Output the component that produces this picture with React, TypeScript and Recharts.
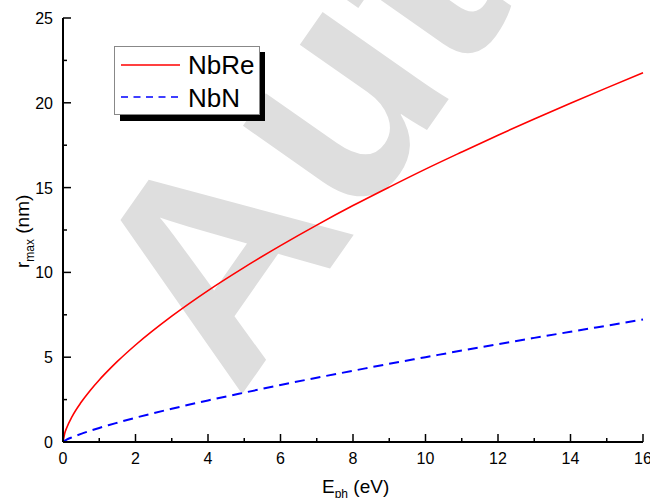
import { Legend, Line, LineChart, XAxis, YAxis } from "recharts";

const energy = [0, 0.05, 0.1, 0.25, 0.5, 0.75, 1, 1.25, 1.5, 2, 3, 4, 5, 6, 7, 8, 9, 10, 11, 12, 13, 14, 15, 16];
const nbre = [0, 0.53, 0.83, 1.5, 2.34, 3.04, 3.66, 4.22, 4.75, 5.72, 7.42, 8.93, 10.3, 11.58, 12.79, 13.94, 15.03, 16.09, 17.1, 18.09, 19.04, 19.97, 20.88, 21.77];
const nbn = [0, 0.08, 0.14, 0.28, 0.48, 0.66, 0.83, 0.99, 1.14, 1.43, 1.96, 2.45, 2.91, 3.36, 3.79, 4.2, 4.61, 5.0, 5.39, 5.77, 6.14, 6.5, 6.86, 7.22];

const xTicks = [0, 1, 2, 3, 4, 5, 6, 7, 8, 9, 10, 11, 12, 13, 14, 15, 16];
const yTicks = [0, 2.5, 5, 7.5, 10, 12.5, 15, 17.5, 20, 22.5, 25];

const seriesNames = ["NbRe", "NbN"];

const data = energy.map((e, i) => ({ e, nbre: nbre[i], nbn: nbn[i] }));

const FONT = "'Liberation Sans', Arial, sans-serif";

function BottomTick({ x, y, payload }: any) {
  const major = payload.value % 2 === 0;
  return (
    <g>
      <line x1={x} x2={x} y1={y} y2={y - (major ? 8 : 4)} stroke="#000" strokeWidth={1.5} />
      {major && (
        <text x={x} y={y + 22} textAnchor="middle" fontSize={16} fontFamily={FONT} fill="#000">
          {payload.value}
        </text>
      )}
    </g>
  );
}

function TopTick({ x, y, payload }: any) {
  const major = payload.value % 2 === 0;
  return <line x1={x} x2={x} y1={y} y2={y + (major ? 8 : 4)} stroke="#000" strokeWidth={1.5} />;
}

function LeftTick({ x, y, payload }: any) {
  const major = payload.value % 5 === 0;
  return (
    <g>
      <line x1={x} x2={x + (major ? 8 : 4)} y1={y} y2={y} stroke="#000" strokeWidth={1.5} />
      {major && (
        <text x={x - 10} y={y + 6} textAnchor="end" fontSize={16} fontFamily={FONT} fill="#000">
          {payload.value}
        </text>
      )}
    </g>
  );
}

function RightTick({ x, y, payload }: any) {
  const major = payload.value % 5 === 0;
  return <line x1={x} x2={x - (major ? 8 : 4)} y1={y} y2={y} stroke="#000" strokeWidth={1.5} />;
}

function ChartLegend() {
  return (
    <svg width={152} height={76} style={{ display: "block" }}>
      <rect x={6} y={6} width={145} height={69} fill="#000" />
      <rect x={0.5} y={0.5} width={145} height={68} fill="#fff" stroke="#888" strokeWidth={1} />
      <line x1={7} x2={66} y1={19} y2={19} stroke="#ff0000" strokeWidth={1.5} />
      <text x={74} y={28} fontSize={26} fontFamily={FONT} fill="#000">{seriesNames[0]}</text>
      <line x1={7} x2={66} y1={51} y2={51} stroke="#0000ff" strokeWidth={1.5} strokeDasharray="7 5.5" />
      <text x={74} y={61} fontSize={26} fontFamily={FONT} fill="#000">{seriesNames[1]}</text>
    </svg>
  );
}

export default function App() {
  return (
    <div style={{ position: "absolute", left: 0, top: 0, width: 650, height: 498, background: "#fff", overflow: "hidden" }}>
      {/* watermark behind the plot */}
      <svg width={650} height={498} style={{ position: "absolute", left: 0, top: 0 }}>
        <text
          transform="translate(238,400) rotate(-55)"
          fontSize={290}
          fontWeight="bold"
          fontFamily={FONT}
          fill="#dedede"
        >
          Author
        </text>
      </svg>
      <div style={{ position: "absolute", left: 0, top: 0 }}>
        <LineChart width={650} height={498} data={data} margin={{ top: 18, right: 7, left: 0, bottom: 0 }}>
          <XAxis
            dataKey="e"
            type="number"
            domain={[0, 16]}
            ticks={xTicks}
            interval={0}
            height={56}
            tickSize={0}
            tickMargin={0}
            tickLine={false}
            axisLine={{ stroke: "#000", strokeWidth: 2 }}
            tick={<BottomTick />}
            label={{
              content: () => (
                <text x={322} y={493} fontSize={19} fontFamily={FONT} fill="#000">
                  E<tspan fontSize={12} dy={5}>ph</tspan>
                  <tspan dy={-5}> (eV)</tspan>
                </text>
              ),
            }}
          />
          <XAxis
            xAxisId="top"
            orientation="top"
            dataKey="e"
            type="number"
            domain={[0, 16]}
            ticks={xTicks}
            interval={0}
            height={0}
            tickSize={0}
            tickMargin={0}
            tickLine={false}
            axisLine={{ stroke: "#000", strokeWidth: 2 }}
            tick={<TopTick />}
          />
          <YAxis
            type="number"
            domain={[0, 25]}
            ticks={yTicks}
            interval={0}
            width={63}
            tickSize={0}
            tickMargin={0}
            tickLine={false}
            axisLine={{ stroke: "#000", strokeWidth: 2 }}
            tick={<LeftTick />}
            label={{
              content: () => (
                <text transform="translate(29,268) rotate(-90)" fontSize={19} fontFamily={FONT} fill="#000">
                  r<tspan fontSize={12} dy={5}>max</tspan>
                  <tspan dy={-5}> (nm)</tspan>
                </text>
              ),
            }}
          />
          <YAxis
            yAxisId="right"
            orientation="right"
            type="number"
            domain={[0, 25]}
            ticks={yTicks}
            interval={0}
            width={0}
            tickSize={0}
            tickMargin={0}
            tickLine={false}
            axisLine={{ stroke: "#000", strokeWidth: 2 }}
            tick={<RightTick />}
          />
          <Legend
            layout="vertical"
            align="center"
            verticalAlign="middle"
            content={<ChartLegend />}
            wrapperStyle={{ left: 114, top: 46, width: 152, height: 76 }}
          />
          <Line
            type="monotone"
            dataKey="nbre"
            name={seriesNames[0]}
            stroke="#ff0000"
            strokeWidth={1.6}
            dot={false}
            isAnimationActive={false}
          />
          <Line
            type="monotone"
            dataKey="nbn"
            name={seriesNames[1]}
            stroke="#0000ff"
            strokeWidth={2}
            strokeDasharray="10 6"
            dot={false}
            isAnimationActive={false}
          />
        </LineChart>
      </div>
    </div>
  );
}
